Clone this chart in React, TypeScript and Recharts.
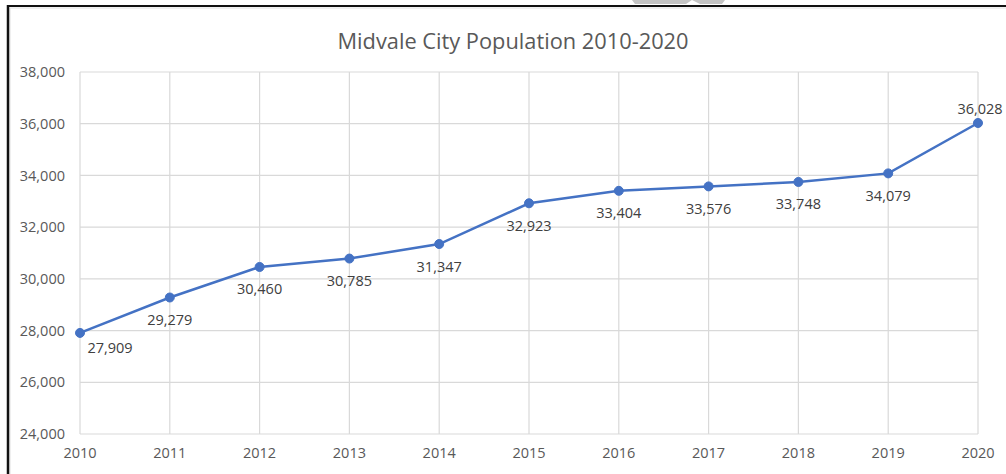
import React from "react";
import { LineChart, Line, XAxis, YAxis, CartesianGrid, LabelList } from "recharts";

const years = ["2010", "2011", "2012", "2013", "2014", "2015", "2016", "2017", "2018", "2019", "2020"];
const population = [27909, 29279, 30460, 30785, 31347, 32923, 33404, 33576, 33748, 34079, 36028];
const yTicks = [24000, 26000, 28000, 30000, 32000, 34000, 36000, 38000];
const title = "Midvale City Population 2010-2020";

const data = years.map((y, i) => ({ year: y, pop: population[i] }));

const FONT = "'Open Sans', sans-serif";
const fmt = (v: number) => v.toLocaleString("en-US");

const renderLabel = (props: any) => {
  const { x, y, value, index } = props;
  let dx = 0;
  let dy = 22;
  if (index === data.length - 1) {
    dy = -14;
    dx = 2;
  } else if (index === 0) {
    dx = 30;
    dy = 15;
  }
  return (
    <text
      x={x + dx}
      y={y + dy}
      textAnchor="middle"
      dominantBaseline="central"
      fontFamily={FONT}
      fontSize={14.5}
      fill="#404040"
    >
      {fmt(value)}
    </text>
  );
};

export default function App() {
  return (
    <div style={{ position: "absolute", left: 0, top: 0, width: 1006, height: 474, background: "#fff" }}>
      <LineChart
        width={1006}
        height={474}
        data={data}
        margin={{ top: 72, right: 28, bottom: 10, left: 20 }}
      >
        <CartesianGrid stroke="#d9d9d9" strokeWidth={1.2} />
        <XAxis
          dataKey="year"
          scale="point"
          padding={{ left: 0, right: 0 }}
          height={30}
          axisLine={false}
          tickLine={false}
          tickSize={0}
          tickMargin={14}
          tick={{ fontFamily: FONT, fontSize: 14.5, fill: "#595959" }}
          interval={0}
        />
        <YAxis
          domain={[24000, 38000]}
          ticks={yTicks}
          width={60}
          axisLine={false}
          tickLine={false}
          tickSize={0}
          tickMargin={15}
          tickFormatter={fmt}
          tick={{ fontFamily: FONT, fontSize: 14.5, fill: "#595959" }}
          interval={0}
        />
        <Line
          type="linear"
          dataKey="pop"
          stroke="#4472C4"
          strokeWidth={2.5}
          dot={{ r: 4.5, fill: "#4472C4", stroke: "#4472C4", strokeWidth: 1 }}
          isAnimationActive={false}
        >
          <LabelList dataKey="pop" content={renderLabel} />
        </Line>
        <text
          x={513}
          y={40}
          textAnchor="middle"
          dominantBaseline="central"
          fontFamily={FONT}
          fontSize={21.8}
          fill="#595959"
        >
          {title}
        </text>
      </LineChart>
      <svg
        width={1006}
        height={474}
        style={{ position: "absolute", left: 0, top: 0, pointerEvents: "none" }}
      >
        <line x1={10} y1={8} x2={1006} y2={8} stroke="#e0e0e0" strokeWidth={1} />
        <line x1={10} y1={8} x2={10} y2={474} stroke="#e0e0e0" strokeWidth={1} />
        <line x1={7} y1={6} x2={1006} y2={6} stroke="#111" strokeWidth={2} />
        <line x1={8} y1={5} x2={8} y2={474} stroke="#111" strokeWidth={2.5} />
        <polygon points="632,0 725,0 722,4 700,4 692,0 686,4 635,4" fill="#c4c4c4" />
      </svg>
    </div>
  );
}
